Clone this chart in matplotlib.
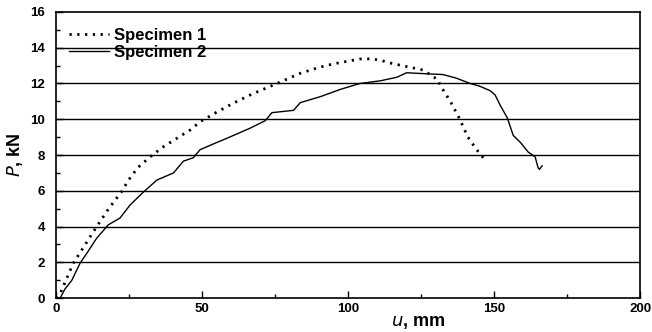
import matplotlib
matplotlib.use("Agg")
import matplotlib.pyplot as plt
from matplotlib.ticker import MultipleLocator

plt.rcParams['font.family'] = ['Liberation Sans', 'DejaVu Sans']

u1 = [0, 1.4, 5.9, 10, 13.9, 18, 22.5, 24.8, 28, 32.2, 36.7, 41, 45.9, 49.3, 55, 60.7, 67, 75.6,
      83.6, 90, 95, 100, 104, 108, 111, 115.5, 120, 125.7, 130.8, 131.5, 135, 138, 141, 144, 146.6]
P1 = [0, 0.26, 1.95, 3.0, 4.0, 5.0, 5.97, 6.6, 7.3, 7.9, 8.46, 8.9, 9.4, 9.86, 10.4, 10.9, 11.4, 12.0,
      12.57, 12.9, 13.1, 13.25, 13.37, 13.38, 13.3, 13.1, 12.95, 12.75, 12.2, 11.9, 11.0, 10.07, 9.0, 8.3, 7.78]

u2 = [0, 1.4, 3, 5.4, 8.2, 10.5, 13.9, 17.9, 21.9, 25.3, 29.9, 34.5, 40.2, 43.6, 47, 49.3, 55, 58.4,
      66.4, 71.6, 73.9, 81.3, 83.6, 90.4, 97.3, 104, 111, 116.7, 120, 126, 132.5, 137, 141.8, 145,
      148.6, 150.3, 152, 154.5, 156.5, 159, 161.6, 164, 165, 165.5, 166.4]
P2 = [0, 0, 0.5, 1.0, 1.95, 2.5, 3.35, 4.1, 4.48, 5.2, 5.93, 6.6, 7.0, 7.66, 7.85, 8.3, 8.7, 8.93,
      9.5, 9.92, 10.37, 10.5, 10.93, 11.26, 11.67, 12.0, 12.15, 12.35, 12.6, 12.55, 12.5, 12.3, 12.0, 11.85,
      11.6, 11.36, 10.8, 10.07, 9.1, 8.7, 8.17, 7.9, 7.3, 7.2, 7.4]

labels = ["Specimen 1", "Specimen 2"]

fig = plt.figure(figsize=(6.52, 3.32), dpi=100)
ax = fig.add_axes([0.086, 0.102, 0.896, 0.862])

for y in range(2, 16, 2):
    ax.axhline(y, color='black', lw=1.0, zorder=1)

ax.plot(u1, P1, color='black', lw=2.0, linestyle=(0, (0.8, 2.0)), label=labels[0], zorder=3)
ax.plot(u2, P2, color='black', lw=1.0, label=labels[1], zorder=3)

ax.set_xlim(0, 200)
ax.set_ylim(0, 16)
ax.xaxis.set_major_locator(MultipleLocator(50))
ax.xaxis.set_minor_locator(MultipleLocator(25))
ax.yaxis.set_major_locator(MultipleLocator(2))
ax.yaxis.set_minor_locator(MultipleLocator(1))
ax.tick_params(which='both', direction='in', top=False, right=False)
ax.tick_params(which='major', length=5, width=1, labelsize=9.5)
ax.tick_params(axis='y', which='major', pad=8)
ax.tick_params(which='minor', length=3, width=1)
for lab in ax.get_xticklabels() + ax.get_yticklabels():
    lab.set_fontweight('bold')
for s in ax.spines.values():
    s.set_linewidth(1.2)

ax.set_xlabel(r"$\mathit{u}$, mm", fontsize=13, fontweight='bold', labelpad=-2)
ax.xaxis.set_label_coords(0.62, -0.055)
ax.set_ylabel(r"$\mathit{P}$, kN", fontsize=13, fontweight='bold', labelpad=4)

leg = ax.legend(loc='upper left', bbox_to_anchor=(0.022, 0.943), frameon=False,
                prop={'weight': 'bold', 'size': 12},
                handlelength=2.4, handletextpad=0.3, borderaxespad=0.0, borderpad=0.0,
                labelspacing=0.1)

fig.savefig("out.png", dpi=100)
